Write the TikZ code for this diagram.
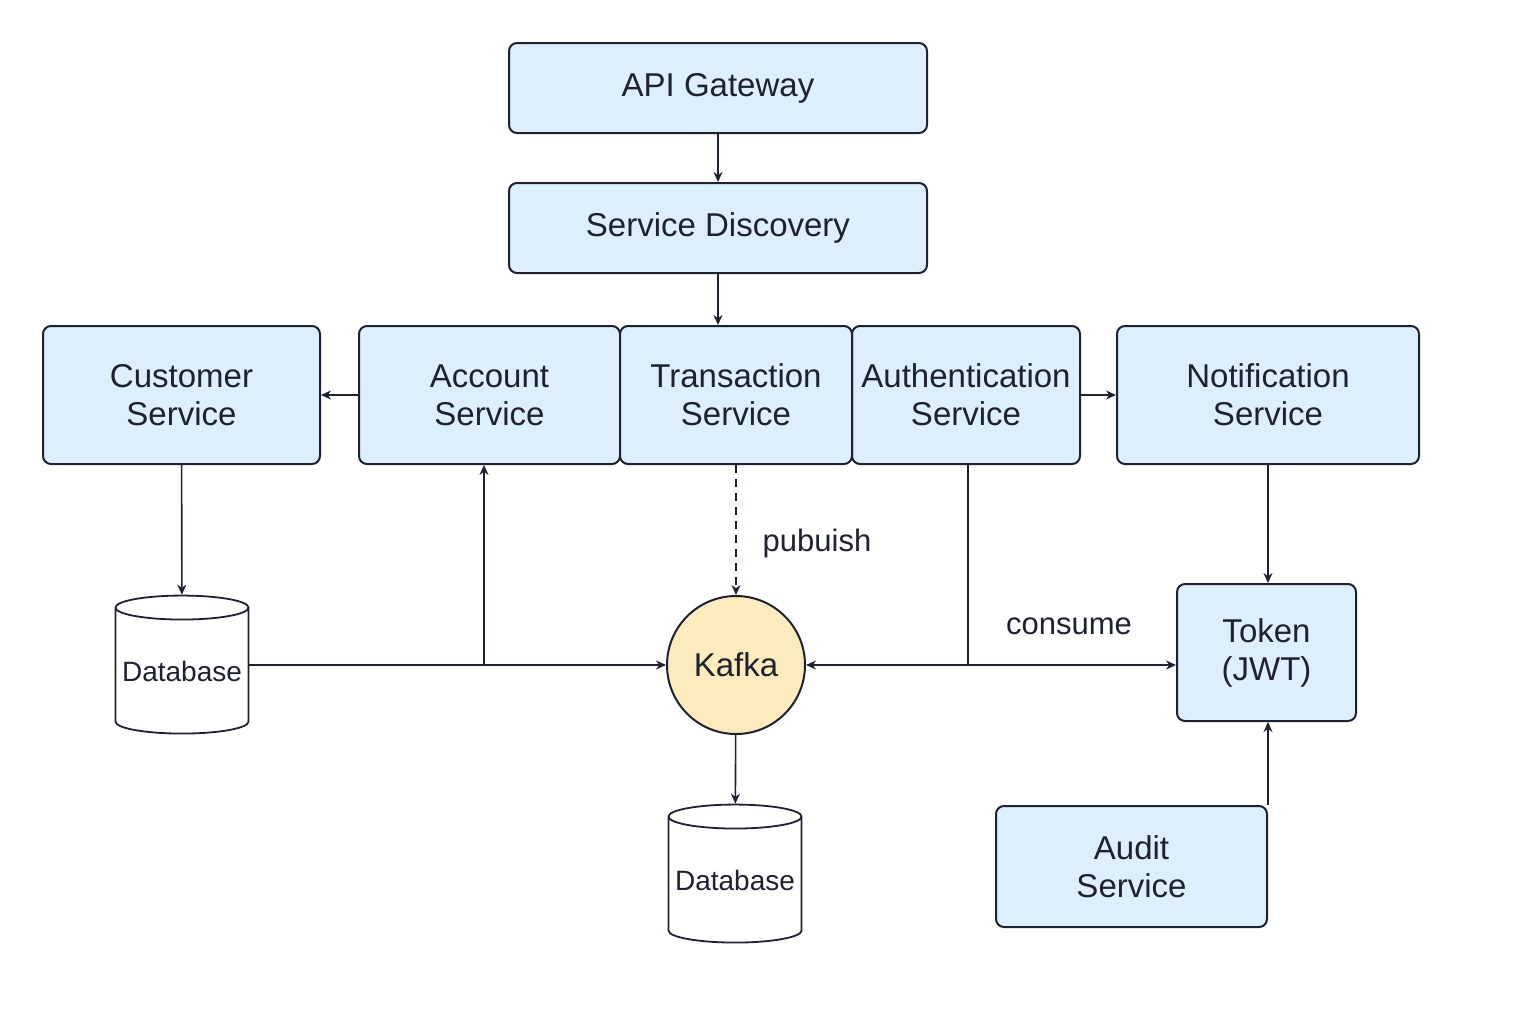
\documentclass[tikz,border=0pt]{standalone}
\usepackage{fontspec}
\setmainfont{Liberation Sans}
\usetikzlibrary{arrows.meta,shapes.geometric}
\definecolor{boxblue}{HTML}{DDEEFC}
\definecolor{kafkayellow}{HTML}{FDEBBE}
\definecolor{ink}{HTML}{1E2230}

\begin{document}
\begin{tikzpicture}[x=0.5pt,y=-0.5pt,
  svc/.style={draw=ink,line width=1pt,fill=boxblue,rounded corners=4pt,align=center,
    font=\fontsize{16.5}{19}\selectfont,text=ink,inner sep=0pt},
  dbase/.style={cylinder,shape border rotate=90,aspect=0.2,draw=ink,line width=0.9pt,fill=white,
    minimum width=66.5pt,minimum height=69pt,font=\fontsize{14}{16}\selectfont,text=ink,inner sep=0pt},
  arr/.style={draw=ink,line width=0.8pt,-{Stealth[length=5pt,width=4.5pt]}},
  lbl/.style={font=\fontsize{15.5}{18}\selectfont,text=ink}]
  \fill[white] (0,0) rectangle (1536,1024);
  \useasboundingbox (0,0) rectangle (1536,1024);

  % top of the stack
  \node[svc,minimum width=209pt,minimum height=45pt] (api) at (718,88) {API Gateway};
  \node[svc,minimum width=209pt,minimum height=45pt] (disc) at (718,228) {Service Discovery};

  % service row
  \node[svc,minimum width=138.5pt,minimum height=69pt] (cust) at (181.5,395) {Customer\\Service};
  \node[svc,minimum width=130.5pt,minimum height=69pt] (acct) at (489.5,395) {Account\\Service};
  \node[svc,minimum width=114pt,minimum height=69pt] (auth) at (966,395) {Authentication\\Service};
  \node[svc,minimum width=116pt,minimum height=69pt] (trans) at (736,395) {Transaction\\Service};
  \node[svc,minimum width=151pt,minimum height=69pt] (notif) at (1268,395) {Notification\\Service};

  % lower part
  \node[dbase] (db1) at (182,671) {Database};
  \node[circle,draw=ink,line width=1pt,fill=kafkayellow,minimum size=69pt,inner sep=0pt,
    font=\fontsize{16.5}{19}\selectfont,text=ink] (kafka) at (736,665) {Kafka};
  \node[dbase] (db2) at (735,880) {Database};
  \node[svc,minimum width=89.5pt,minimum height=68.5pt] (tok) at (1266.5,652.5) {Token\\(JWT)};
  \node[svc,minimum width=135.5pt,minimum height=60.5pt] (aud) at (1131.5,866.5) {Audit\\Service};

  \node[lbl] (pub) at (817,543) {pubuish};
  \node[lbl] (cons) at (1069,626) {consume};

  % connectors
  \draw[arr] (api) -- (disc);
  \draw[arr] (disc.south) -- (disc.south |- trans.north);
  \draw[arr] (acct) -- (cust);
  \draw[arr] (auth) -- (notif);
  \draw[arr] (cust) -- (db1);
  \draw[arr,dash pattern=on 4pt off 3pt] (trans) -- (kafka);
  \draw[arr] (kafka) -- (db2);
  \coordinate (j1) at (484,665);
  \coordinate (j2) at (968,665);
  \draw[arr] (db1.east |- kafka.west) -- (kafka.west);
  \draw[arr] (j1) -- (j1 |- acct.south);
  \draw[draw=ink,line width=0.8pt] (j2 |- auth.south) -- (j2);
  \draw[arr] (j2) -- (kafka.east);
  \draw[arr] (j2) -- (j2 -| tok.west);
  \draw[arr] (notif.south) -- (notif.south |- tok.north);
  \draw[arr] (aud.north east) -- (aud.north east |- tok.south);
\end{tikzpicture}
\end{document}
